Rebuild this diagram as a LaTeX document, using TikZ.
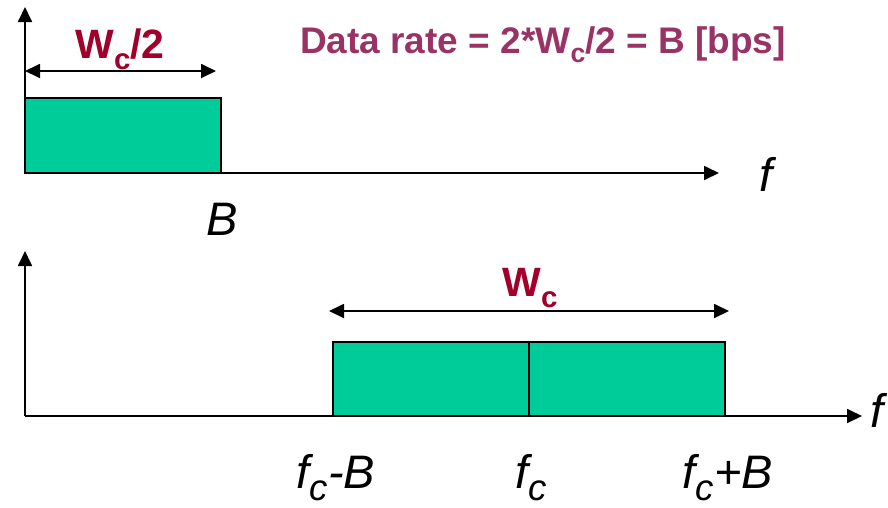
\documentclass[tikz,border=0pt]{standalone}
\usepackage{fontspec}
\setmainfont{Liberation Sans}
\usetikzlibrary{arrows.meta}

\definecolor{bandgreen}{HTML}{00CC99}
\definecolor{wcred}{HTML}{A0002A}
\definecolor{ratepurple}{HTML}{993366}

% lowered subscript, as in the slide
\newcommand{\lowsub}[2][0.72]{\raisebox{-0.27em}{\scalebox{#1}{#2}}}

\tikzset{
  axisline/.style={line width=1.8pt,-{Triangle[length=15pt,width=14pt]}},
  spanline/.style={line width=1.8pt,{Triangle[length=15pt,width=14pt]}-{Triangle[length=15pt,width=14pt]}},
  band/.style={draw,line width=1.6pt,fill=bandgreen},
  wclabel/.style={anchor=base,inner sep=0pt,text=wcred,font=\fontsize{41}{41}\selectfont\bfseries},
  ratelabel/.style={anchor=base,inner sep=0pt,text=ratepurple,font=\fontsize{37}{37}\selectfont\bfseries},
  flabel/.style={anchor=base,inner sep=0pt,font=\fontsize{47}{47}\selectfont\itshape},
}

\begin{document}
\begin{tikzpicture}[x=1pt,y=-1pt]
  \useasboundingbox (0,0) rectangle (888,507);

  % baseband spectrum
  \coordinate (o1) at (25,173);
  \coordinate (y1) at (25,7);
  \coordinate (x1) at (719,173);
  \draw[band] (o1) rectangle (221,98);
  \draw[axisline] (o1) -- (y1);
  \draw[axisline] (o1) -- (x1);
  \coordinate (s1a) at (25,71);
  \coordinate (s1b) at (216,71);
  \draw[spanline] (s1a) -- (s1b);
  \node[wclabel] (halfw) at (120,58) {W\lowsub{c}/2};
  \node[ratelabel] (rate) at (543,53) {Data rate = 2*W\lowsub{c}/2 = B [bps]};
  \node[flabel] (bB) at (222,235) {B};
  \node[flabel] (f1) at (766,191) {f};

  % passband spectrum
  \coordinate (o2) at (25,416);
  \coordinate (y2) at (25,251);
  \coordinate (x2) at (862,416);
  \draw[band] (333,416) rectangle (725,342);
  \draw[line width=1.6pt] (529,416) -- (529,342);
  \draw[axisline] (o2) -- (y2);
  \draw[axisline] (o2) -- (x2);
  \coordinate (s2a) at (329,311);
  \coordinate (s2b) at (729,311);
  \draw[spanline] (s2a) -- (s2b);
  \node[wclabel] (fullw) at (530,296) {W\lowsub{c}};
  \node[flabel] (f2) at (877,427) {f};
  \node[flabel] (lo) at (336,488) {f\lowsub[0.78]{c}-B};
  \node[flabel] (mid) at (531,488) {f\lowsub[0.78]{c}};
  \node[flabel] (hi) at (728,488) {f\lowsub[0.78]{c}+B};
\end{tikzpicture}
\end{document}
